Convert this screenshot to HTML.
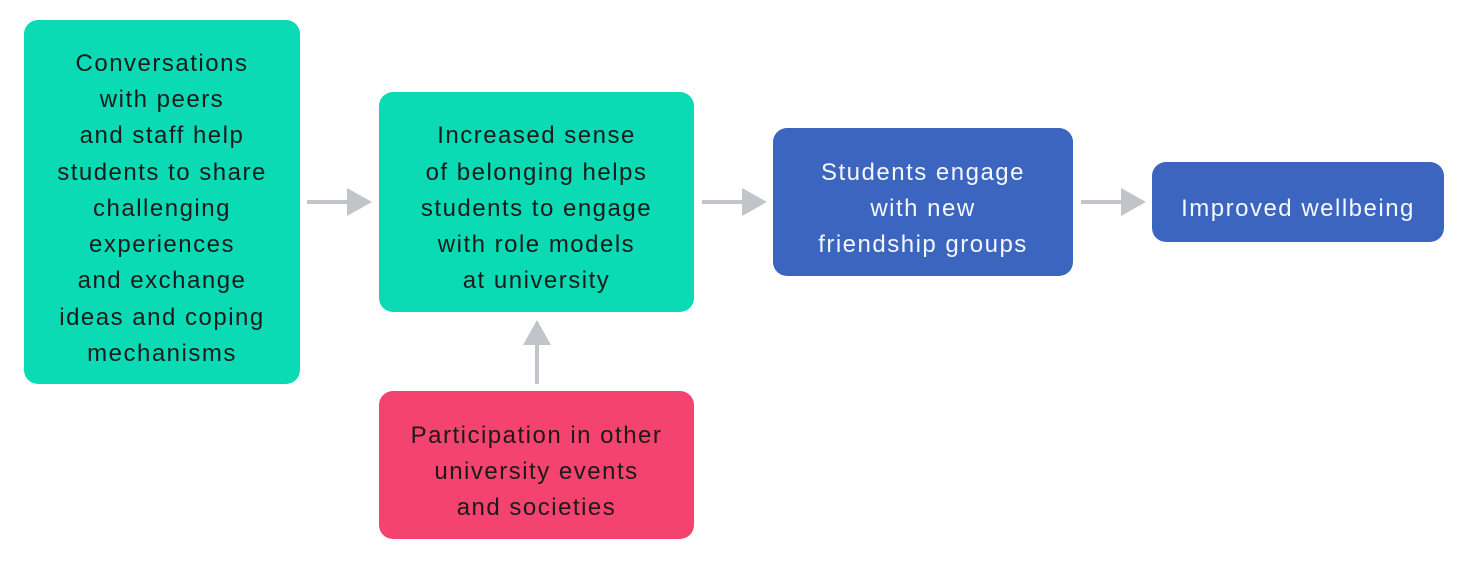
<!DOCTYPE html>
<html><head><meta charset="utf-8"><style>
html,body{margin:0;padding:0;background:#fff;width:1470px;height:565px;overflow:hidden;position:relative}
.b{position:absolute;box-sizing:border-box;padding-top:14px;border-radius:14px;display:flex;align-items:center;justify-content:center;text-align:center;font-family:"Liberation Sans",sans-serif;font-size:24px;line-height:36.2px;letter-spacing:1.5px;color:#1b1b1b}
.t{background:#0bdbb4}.bl{background:#3b65bf;color:#f4f8ff}.p{background:#f4436e;color:#1b1b1b}
svg{position:absolute;left:0;top:0}
</style></head><body>
<div class="b t" style="left:24px;top:20px;width:276px;height:364px">Conversations<br>with peers<br>and staff help<br>students to share<br>challenging<br>experiences<br>and exchange<br>ideas and coping<br>mechanisms</div>
<div class="b t" style="left:379px;top:92px;width:315px;height:220px">Increased sense<br>of belonging helps<br>students to engage<br>with role models<br>at university</div>
<div class="b bl" style="left:773px;top:128px;width:300px;height:148px">Students engage<br>with new<br>friendship groups</div>
<div class="b bl" style="left:1152px;top:162px;width:292px;height:80px">Improved wellbeing</div>
<div class="b p" style="left:379px;top:391px;width:315px;height:148px">Participation in other<br>university events<br>and societies</div>
<svg width="1470" height="565">
<g fill="#c1c4c8" stroke="#c1c4c8" stroke-width="4">
<line x1="307" y1="202" x2="348" y2="202"/><polygon stroke="none" points="347,188 372,202 347,216"/>
<line x1="702" y1="202" x2="743" y2="202"/><polygon stroke="none" points="742,188 767,202 742,216"/>
<line x1="1081" y1="202" x2="1122" y2="202"/><polygon stroke="none" points="1121,188 1146,202 1121,216"/>
<line x1="537" y1="384" x2="537" y2="344"/><polygon stroke="none" points="523,345 537,320 551,345"/>
</g></svg>
</body></html>
